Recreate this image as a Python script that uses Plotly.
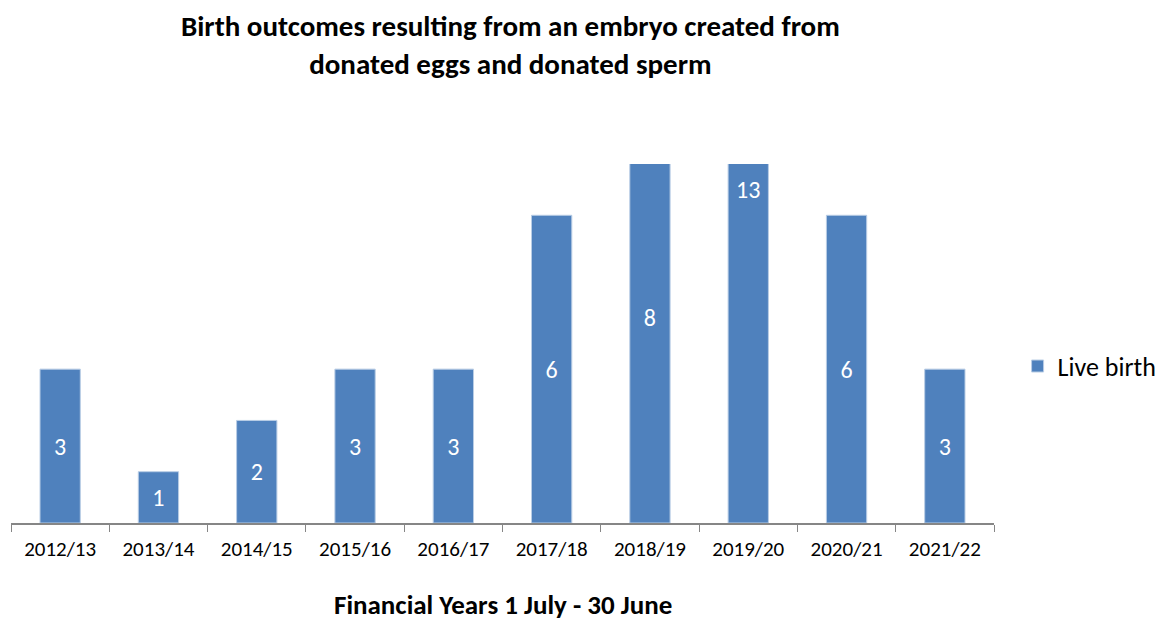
import plotly.graph_objects as go

categories = ["2012/13", "2013/14", "2014/15", "2015/16", "2016/17",
              "2017/18", "2018/19", "2019/20", "2020/21", "2021/22"]
live_birth = [3, 1, 2, 3, 3, 6, 8, 13, 6, 3]
y_max = 7
x_title = "Financial Years 1 July - 30 June"

FONT = "Carlito, Calibri, 'Open Sans', sans-serif"

fig = go.Figure()
fig.add_trace(go.Bar(
    x=categories, y=live_birth, name="Live birth",
    marker=dict(color="#4F81BD", line=dict(color="#B9CDE5", width=1)),
    text=[str(v) for v in live_birth], textposition="inside",
    insidetextanchor="middle",
    textfont=dict(color="white", size=24, family=FONT),
    cliponaxis=True,
))

fig.update_layout(
    width=1160, height=618,
    margin=dict(l=11, r=166, t=164, b=95, autoexpand=False),
    paper_bgcolor="white", plot_bgcolor="white",
    bargap=0.59,
    showlegend=True,
    title=dict(text="<b>Birth outcomes resulting from an embryo created from<br>donated eggs and donated sperm</b>",
               x=0.44, xanchor="center", y=0.942, yanchor="top",
               font=dict(family=FONT, size=29, color="black")),
    legend=dict(x=1.024, xanchor="left", y=0.437, yanchor="middle",
                font=dict(family=FONT, size=26, color="black"),
                itemwidth=30),
    uniformtext=dict(mode=False),
    annotations=[dict(text="<b>" + x_title + "</b>", xref="paper", yref="paper",
                      x=0.5, y=-0.226, xanchor="center", yanchor="middle",
                      showarrow=False, font=dict(family=FONT, size=27, color="black"))],
)
fig.update_xaxes(
    type="category", showline=True, linecolor="#868686", linewidth=1.5,
    ticks="outside", tickson="boundaries", ticklen=7, tickcolor="#868686",
    tickfont=dict(family=FONT, size=21, color="black"), ticklabelstandoff=6,
    showgrid=False, automargin=False,
)
fig.update_yaxes(range=[0, y_max], visible=False, showgrid=False, automargin=False)

fig.write_html("out.html", config={"displayModeBar": False},
               post_script="document.body.style.margin='0px';document.body.style.overflow='hidden';")
